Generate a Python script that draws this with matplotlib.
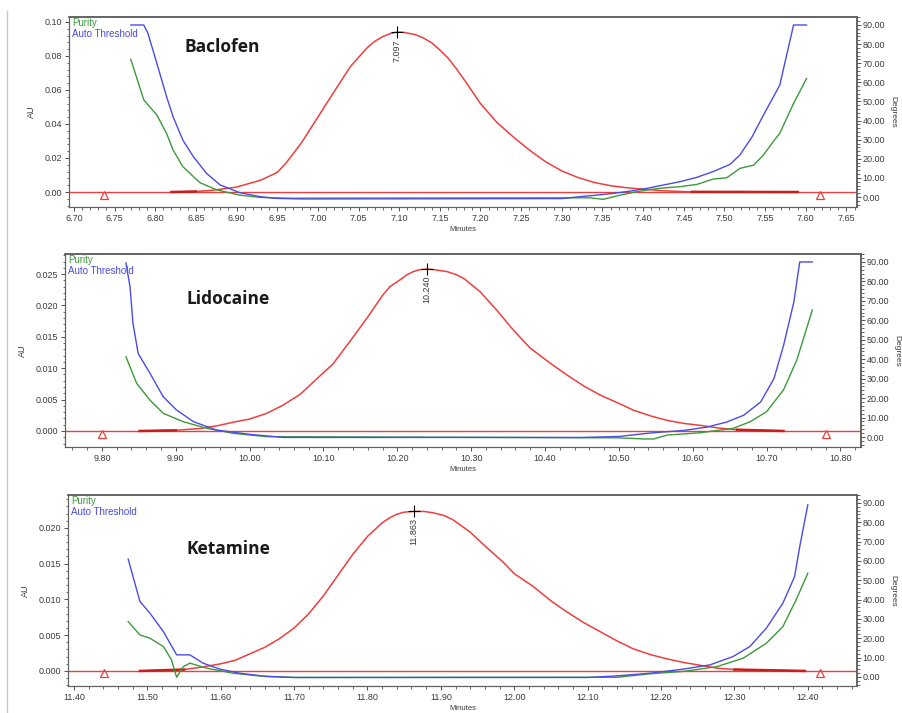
import matplotlib
matplotlib.use("Agg")
import matplotlib.pyplot as plt
from matplotlib.ticker import MultipleLocator, FormatStrFormatter
from matplotlib.lines import Line2D

plt.rcParams['font.family'] = ['Liberation Sans', 'DejaVu Sans']

# ---------------- Baclofen ----------------
bac_time = [6.82, 6.85, 6.87, 6.88, 6.90, 6.93, 6.95, 6.96, 6.98, 7.00, 7.02, 7.04,
            7.06, 7.07, 7.08, 7.09, 7.097, 7.105, 7.12, 7.13, 7.14, 7.15, 7.16, 7.17,
            7.18, 7.19, 7.20, 7.22, 7.24, 7.26, 7.28, 7.30, 7.32, 7.34, 7.36, 7.38,
            7.40, 7.42, 7.44, 7.46, 7.59]
bac_au = [0.0, 0.0003, 0.0010, 0.0016, 0.0029, 0.0070, 0.0115, 0.0165, 0.029, 0.044,
          0.059, 0.0737, 0.0845, 0.0886, 0.0914, 0.0933, 0.094, 0.0939, 0.0925, 0.0905,
          0.0877, 0.0835, 0.0788, 0.0727, 0.066, 0.059, 0.052, 0.041, 0.0325, 0.0247,
          0.0178, 0.0124, 0.0085, 0.0056, 0.0037, 0.0025, 0.0017, 0.0009, 0.0004,
          0.0001, 0.0]
bac_thr_time = [6.770, 6.786, 6.791, 6.802, 6.814, 6.822, 6.834, 6.847, 6.863, 6.880,
                6.904, 6.929, 6.949, 6.98, 7.30, 7.322, 7.343, 7.363, 7.384, 7.404,
                7.425, 7.445, 7.466, 7.486, 7.507, 7.519, 7.534, 7.548, 7.568, 7.585, 7.601]
bac_thr = [90, 90, 85.7, 70, 52.5, 42, 29.8, 21.1, 12.4, 6.3, 2.3, 0.2, -0.7, -1.0,
           -0.8, 0.2, 1.0, 1.9, 3.1, 4.5, 6.3, 8.0, 10.3, 13.3, 17.1, 22, 31.5, 42.9,
           58.5, 90, 90]
bac_pur_time = [6.770, 6.786, 6.802, 6.814, 6.822, 6.834, 6.855, 6.876, 6.904, 6.929,
                6.96, 7.335, 7.351, 7.372, 7.392, 7.413, 7.429, 7.445, 7.466, 7.486,
                7.503, 7.519, 7.536, 7.548, 7.560, 7.568, 7.585, 7.601]
bac_pur = [72, 50.8, 42.9, 33.3, 24.6, 15.9, 7.5, 3.7, 1.0, -0.2, -0.6, -0.4, -1.2,
           1.0, 2.8, 4.2, 4.9, 5.4, 6.6, 9.4, 10.1, 15.0, 16.7, 22, 29, 33.3, 49, 62]
bac_marks = [6.737, 7.618]
bac_mark_au = -0.0018

# ---------------- Lidocaine ----------------
lid_time = [9.851, 9.90, 9.933, 9.955, 9.978, 10.00, 10.023, 10.045, 10.068, 10.09,
            10.113, 10.136, 10.159, 10.18, 10.19, 10.204, 10.213, 10.222, 10.23,
            10.240, 10.25, 10.267, 10.28, 10.290, 10.312, 10.335, 10.357, 10.380,
            10.407, 10.430, 10.452, 10.475, 10.50, 10.520, 10.543, 10.565, 10.588,
            10.610, 10.633, 10.66, 10.723]
lid_au = [0.0, 0.0001, 0.0004, 0.0008, 0.0014, 0.0019, 0.0028, 0.0041, 0.0058, 0.0082,
          0.0107, 0.0143, 0.0180, 0.0216, 0.0230, 0.0241, 0.0249, 0.0254, 0.0257,
          0.0258, 0.0257, 0.0254, 0.0249, 0.0243, 0.0222, 0.0192, 0.0161, 0.0132,
          0.0108, 0.0089, 0.0072, 0.0057, 0.0044, 0.0033, 0.0024, 0.0017, 0.0012,
          0.0009, 0.0005, 0.0002, 0.0]
lid_thr_time = [9.8325, 9.838, 9.842, 9.849, 9.865, 9.883, 9.901, 9.924, 9.955, 10.00,
                10.046, 10.45, 10.50, 10.543, 10.588, 10.619, 10.646, 10.669, 10.692,
                10.710, 10.723, 10.737, 10.745, 10.762]
lid_thr = [89.5, 77.3, 58.5, 43, 32.8, 20.7, 13.9, 7.9, 3.6, 1.4, -0.2, -0.2, 0.3, 2.1,
           3.4, 5.1, 7.7, 11.2, 18, 30, 47, 69.4, 90, 90]
lid_pur_time = [9.8325, 9.847, 9.865, 9.883, 9.910, 9.942, 9.978, 10.023, 10.50, 10.535,
                10.547, 10.565, 10.610, 10.655, 10.678, 10.700, 10.723, 10.741, 10.762]
lid_pur = [41.3, 27.6, 19, 12.2, 7.9, 4.5, 1.9, 0.2, -0.4, -1.0, -1.0, 1.0, 2.2, 4.5,
           7.9, 13, 24.2, 39.6, 65.3]
lid_marks = [9.80, 10.780]
lid_mark_au = -0.0005

# ---------------- Ketamine ----------------
ket_time = [11.49, 11.55, 11.572, 11.60, 11.62, 11.64, 11.66, 11.68, 11.70, 11.72,
            11.74, 11.76, 11.78, 11.80, 11.82, 11.83, 11.84, 11.85, 11.863, 11.877,
            11.89, 11.905, 11.917, 11.94, 11.962, 11.985, 12.00, 12.026, 12.05, 12.071,
            12.094, 12.117, 12.14, 12.162, 12.185, 12.2075, 12.23, 12.253, 12.276,
            12.30, 12.396]
ket_au = [0.0, 0.0002, 0.0005, 0.0010, 0.0015, 0.0024, 0.0033, 0.0045, 0.0060, 0.0080,
          0.0105, 0.0134, 0.0163, 0.0188, 0.0207, 0.0214, 0.0219, 0.0222, 0.0223,
          0.0223, 0.0221, 0.0217, 0.0211, 0.0194, 0.0173, 0.0152, 0.0136, 0.0118,
          0.0098, 0.0083, 0.0068, 0.0055, 0.0042, 0.0031, 0.0023, 0.0017, 0.0012,
          0.0008, 0.0004, 0.0002, 0.0]
ket_thr_time = [11.474, 11.490, 11.5035, 11.522, 11.540, 11.558, 11.576, 11.599, 11.626,
                11.6625, 11.70, 12.10, 12.139, 12.185, 12.230, 12.2665, 12.298, 12.321,
                12.3435, 12.366, 12.382, 12.389, 12.400]
ket_thr = [60.9, 39, 33, 23.4, 11.4, 11.4, 7.1, 4.0, 1.9, 0.2, -0.3, -0.3, 0.5, 1.9,
           4.0, 6.2, 10.5, 15.7, 25.2, 38.1, 51.9, 67.4, 89]
ket_pur_time = [11.474, 11.490, 11.5035, 11.522, 11.533, 11.540, 11.549, 11.558, 11.581,
                11.617, 11.653, 11.70, 12.14, 12.185, 12.230, 12.276, 12.312, 12.3435,
                12.366, 12.384, 12.400]
ket_pur = [28.6, 21.7, 20, 15.7, 8.8, -0.2, 5.3, 7.1, 4.5, 1.9, 0.5, -0.3, -0.2, 1.6,
           2.8, 5.3, 9.7, 17.4, 26, 39.8, 53.6]
ket_marks = [11.441, 12.416]
ket_mark_au = -0.0003

names = ["Baclofen", "Lidocaine", "Ketamine"]
peak_rt = [7.097, 10.240, 11.863]
peak_au = [0.094, 0.0258, 0.0223]

RED = '#ee3e3e'
BLUE = '#4b4be6'
GREEN = '#3c9a3c'
TXT = '#3a3a3a'


def draw_panel(rect, name, t, au, thr_t, thr, pur_t, pur, marks, mark_au, rt, h,
               xlim, ylim, ylim_deg, xmaj, xmin, ymaj, ymin, yfmt, title_xy):
    ax = fig.add_axes(rect)
    ax.set_xlim(*xlim)
    ax.set_ylim(*ylim)
    ax.axhline(0, color=RED, lw=1.0, zorder=2)
    ax.plot(t, au, color=RED, lw=1.1, zorder=3)
    ax.plot(t[:2], au[:2], color='#c81e1e', lw=1.8, zorder=3)
    ax.plot(t[-2:], au[-2:], color='#c81e1e', lw=1.8, zorder=3)
    ax.plot(marks, [mark_au] * len(marks), linestyle='none', marker='^',
            mfc='none', mec=RED, ms=5.5, mew=0.9, zorder=4)
    ax.plot([rt], [h], marker='+', color='k', ms=8, mew=0.8, zorder=5)
    ax.annotate('%.3f' % rt, (rt, h), xytext=(0, -5), textcoords='offset points',
                rotation=90, ha='center', va='top', fontsize=6.5, color=TXT)

    ax2 = ax.twinx()
    ax2.set_ylim(*ylim_deg)
    ax2.plot(pur_t, pur, color=GREEN, lw=1.0)
    ax2.plot(thr_t, thr, color=BLUE, lw=1.0)

    ax.xaxis.set_major_locator(MultipleLocator(xmaj))
    ax.xaxis.set_minor_locator(MultipleLocator(xmin))
    ax.xaxis.set_major_formatter(FormatStrFormatter('%.2f'))
    ax.yaxis.set_major_locator(MultipleLocator(ymaj))
    ax.yaxis.set_minor_locator(MultipleLocator(ymin))
    ax.yaxis.set_major_formatter(FormatStrFormatter(yfmt))
    ax2.yaxis.set_major_locator(MultipleLocator(10))
    ax2.yaxis.set_minor_locator(MultipleLocator(2))
    ax2.yaxis.set_major_formatter(FormatStrFormatter('%.2f'))

    for a in (ax, ax2):
        a.tick_params(which='major', length=3, width=0.7, labelsize=6.5,
                      colors='#505050', labelcolor=TXT, pad=2)
        a.tick_params(which='minor', length=1.8, width=0.6, colors='#505050')
        for side, sp in a.spines.items():
            sp.set_color('#606060')
            sp.set_linewidth(1.1 if side in ('top', 'right') else 0.8)
    ax2.tick_params(axis='y', pad=1)

    ax.set_xlabel('Minutes', fontsize=5.5, color=TXT, labelpad=2)
    ax.set_ylabel('AU', fontsize=6.5, color=TXT, labelpad=6)
    ax2.set_ylabel('Degrees', fontsize=6, color=TXT, rotation=270, labelpad=8)

    ax.text(0.004, 0.968, 'Purity', transform=ax.transAxes, color=GREEN,
            fontsize=7, va='center', ha='left')
    ax.text(0.004, 0.91, 'Auto Threshold', transform=ax.transAxes, color=BLUE,
            fontsize=7, va='center', ha='left')
    ax.text(title_xy[0], title_xy[1], name, transform=ax.transAxes, fontsize=12.5,
            fontweight='bold', family=['Open Sans', 'DejaVu Sans'], color='#1a1a1a',
            va='center', ha='left')
    return ax


fig = plt.figure(figsize=(9.02, 7.13), dpi=100)
fig.patch.set_facecolor('white')
fig.add_artist(Line2D([7 / 902, 7 / 902], [0.0, 0.985], color='#c8c8c8', lw=1.0))

draw_panel([0.0765, 0.7097, 0.8736, 0.2665], names[0], bac_time, bac_au,
           bac_thr_time, bac_thr, bac_pur_time, bac_pur, bac_marks, bac_mark_au,
           peak_rt[0], peak_au[0], (6.694, 7.663), (-0.0088, 0.1029), (-5.2, 94.2),
           0.05, 0.01, 0.02, 0.004, '%.2f', (0.147, 0.842))
draw_panel([0.0721, 0.3731, 0.8825, 0.2707], names[1], lid_time, lid_au,
           lid_thr_time, lid_thr, lid_pur_time, lid_pur, lid_marks, lid_mark_au,
           peak_rt[1], peak_au[1], (9.75, 10.828), (-0.00255, 0.0282), (-5.1, 94.1),
           0.1, 0.02, 0.005, 0.001, '%.3f', (0.152, 0.767))
draw_panel([0.0754, 0.0379, 0.8747, 0.2679], names[2], ket_time, ket_au,
           ket_thr_time, ket_thr, ket_pur_time, ket_pur, ket_marks, ket_mark_au,
           peak_rt[2], peak_au[2], (11.392, 12.467), (-0.0021, 0.0246), (-4.7, 94.1),
           0.1, 0.02, 0.005, 0.001, '%.3f', (0.1496, 0.717))

fig.savefig('out.png', dpi=100)
